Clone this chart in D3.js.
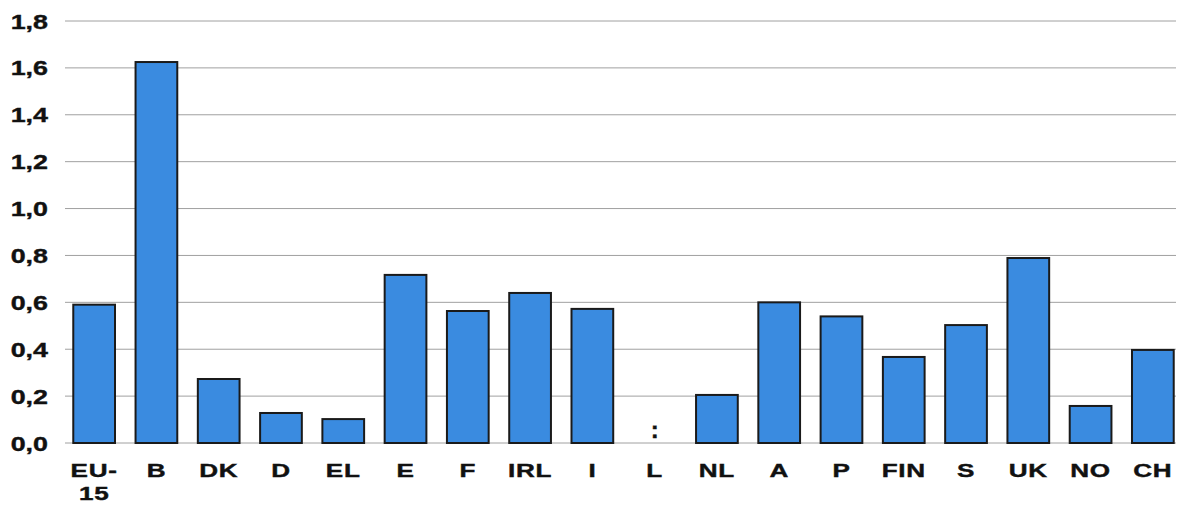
<!DOCTYPE html>
<html>
<head>
<meta charset="utf-8">
<script src="https://cdn.jsdelivr.net/npm/d3@7"></script>
<style>
  body { margin: 0; background: #fff; }
  text { font-family: "Liberation Sans", Arial, sans-serif; font-weight: bold; fill: #111; stroke: #111; stroke-width: 0.4px; }
</style>
</head>
<body>
<div id="chart"></div>
<script>
// data (L has no value, shown as ":")
var countries = ["EU-15", "B", "DK", "D", "EL", "E", "F", "IRL", "I", "L", "NL", "A", "P", "FIN", "S", "UK", "NO", "CH"];
var values = [0.59, 1.625, 0.273, 0.128, 0.102, 0.717, 0.563, 0.64, 0.572, null, 0.205, 0.60, 0.54, 0.367, 0.503, 0.789, 0.158, 0.397];
var yTicks = [0, 0.2, 0.4, 0.6, 0.8, 1.0, 1.2, 1.4, 1.6, 1.8];

var width = 1182, height = 505;
var margin = {top: 21, right: 0, bottom: 62, left: 63};

var svg = d3.select("#chart").append("svg")
    .attr("width", width)
    .attr("height", height);

var x = d3.scaleBand()
    .domain(countries)
    .range([margin.left, 1184])
    .paddingInner(0.33)
    .paddingOuter(0.165);

var y = d3.scaleLinear()
    .domain([0, 1.8])
    .range([443, margin.top]);

var fmt = function(d) { return d3.format(".1f")(d).replace(".", ","); };

// gridlines
svg.append("g")
    .selectAll("line")
    .data(yTicks)
    .enter().append("line")
    .attr("x1", 65)
    .attr("x2", 1176)
    .attr("y1", function(d) { return y(d); })
    .attr("y2", function(d) { return y(d); })
    .style("stroke", "#a0a0a0")
    .style("stroke-width", 1);

// y labels (the original font is wide, so stretch it a bit)
svg.append("g")
    .selectAll("text")
    .data(yTicks)
    .enter().append("text")
    .attr("transform", function(d) { return "translate(48," + y(d) + ") scale(1.28,1)"; })
    .attr("dy", "0.36em")
    .attr("text-anchor", "end")
    .style("font-size", "21px")
    .text(fmt);

// bars
var data = countries.map(function(c, i) { return {c: c, v: values[i]}; });

svg.append("g")
    .selectAll("rect")
    .data(data.filter(function(d) { return d.v !== null; }))
    .enter().append("rect")
    .attr("x", function(d) { return x(d.c); })
    .attr("width", x.bandwidth())
    .attr("y", function(d) { return y(d.v); })
    .attr("height", function(d) { return y(0) - y(d.v); })
    .style("fill", "#3a8be0")
    .style("stroke", "#1a1a1a")
    .style("stroke-width", 2);

// missing value marker
svg.append("g")
    .selectAll("text")
    .data(data.filter(function(d) { return d.v === null; }))
    .enter().append("text")
    .attr("x", function(d) { return x(d.c) + x.bandwidth() / 2; })
    .attr("y", 438)
    .attr("text-anchor", "middle")
    .style("font-size", "24px")
    .text(":");

// category labels
var cat = svg.append("g")
    .selectAll("text")
    .data(countries)
    .enter().append("text")
    .attr("transform", function(d) { return "translate(" + (x(d) + x.bandwidth() / 2) + ",477) scale(1.45,1)"; })
    .attr("text-anchor", "middle")
    .style("font-size", "18px")
    .style("letter-spacing", "0.5px");

cat.each(function(d) {
    var el = d3.select(this);
    var parts = d === "EU-15" ? ["EU-", "15"] : [d];
    parts.forEach(function(p, i) {
        el.append("tspan")
            .attr("x", 0)
            .attr("dy", i === 0 ? 0 : 23)
            .text(p);
    });
});
</script>
</body>
</html>
